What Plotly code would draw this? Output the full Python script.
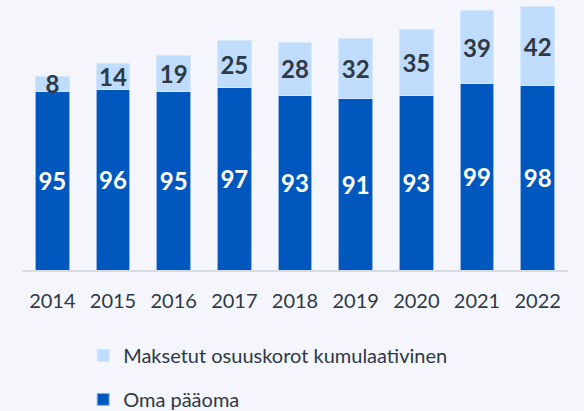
import plotly.graph_objects as go

years = ["2014", "2015", "2016", "2017", "2018", "2019", "2020", "2021", "2022"]
oma_paaoma = [95, 96, 95, 97, 93, 91, 93, 99, 98]
osuuskorot = [8, 14, 19, 25, 28, 32, 35, 39, 42]

BG = "#f4f6fb"
DARK = "#0058bf"
LIGHT = "#bfdcfc"
TEXT = "#2e3847"
FONT = "Lato"

fig = go.Figure()
fig.add_trace(go.Bar(
    x=years, y=oma_paaoma, name="Oma pääoma",
    marker=dict(color=DARK, line=dict(color="#8fb4e6", width=1)),
    text=oma_paaoma, textposition="inside", insidetextanchor="middle",
    constraintext="none", textangle=0, cliponaxis=False,
    textfont=dict(family=FONT, size=24, color="white", weight="bold"),
    legendrank=2, legendgroup="oma",
))
fig.add_trace(go.Bar(
    x=years, y=osuuskorot, name="Maksetut osuuskorot kumulaativinen",
    marker=dict(color=LIGHT, line=dict(color="#d6e8fd", width=1)),
    text=osuuskorot, textposition="inside", insidetextanchor="middle",
    constraintext="none", textangle=0, cliponaxis=False,
    textfont=dict(family=FONT, size=24, color=TEXT, weight="bold"),
    legendrank=1, legendgroup="maksetut",
))

fig.update_layout(
    width=584, height=411,
    barmode="stack", bargap=0.45,
    paper_bgcolor=BG, plot_bgcolor=BG,
    margin=dict(l=22, r=16, t=0, b=141, autoexpand=False),
    font=dict(family=FONT, color=TEXT),
    xaxis=dict(showline=True, linecolor="#d7dce3", linewidth=2,
               ticks="", ticklabelstandoff=12,
               tickfont=dict(size=20, color=TEXT), showgrid=False),
    yaxis=dict(range=[0, 143.6], visible=False, showgrid=False),
    legend=dict(orientation="v", x=0.112, xanchor="left",
                y=-0.244, yanchor="top", traceorder="grouped",
                tracegroupgap=15,
                font=dict(size=20, color=TEXT), itemwidth=30,
                bgcolor="rgba(0,0,0,0)"),
    uniformtext=dict(mode=False),
)

fig.write_html(
    "out.html",
    config={"displayModeBar": False},
    post_script="document.body.style.margin='0';document.body.style.background='#f4f6fb';",
)
